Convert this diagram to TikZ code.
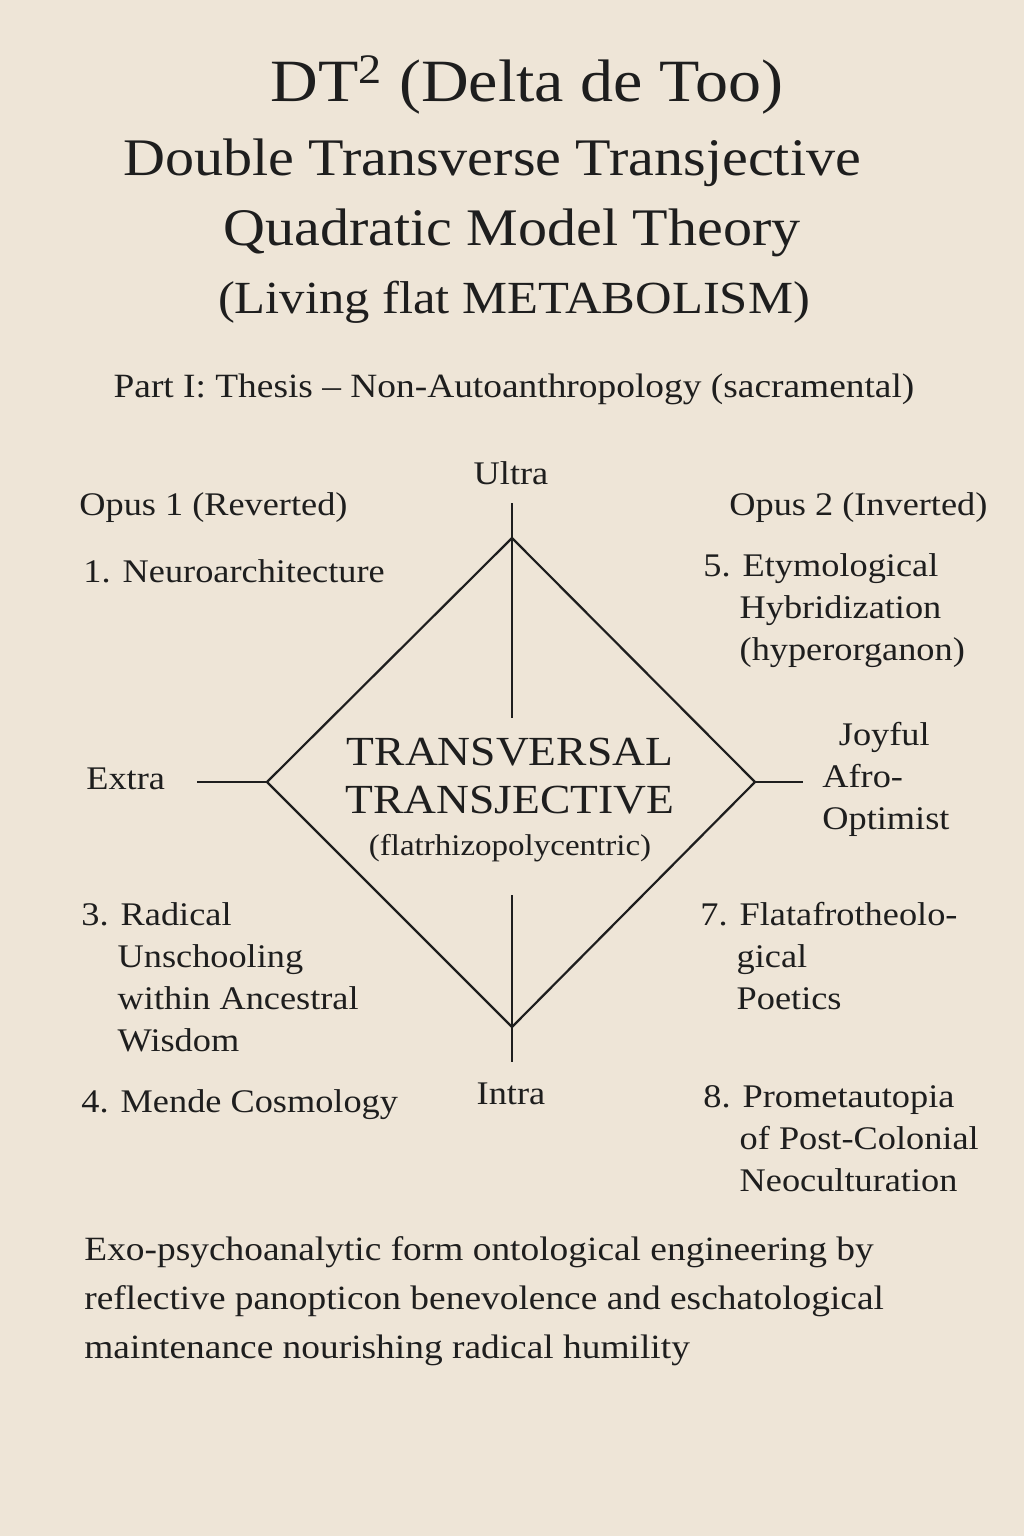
\documentclass[tikz,border=0pt]{standalone}
\usepackage{fontspec}
\setmainfont[FakeStretch=1.1]{Liberation Serif}
\definecolor{bg}{HTML}{EEE5D7}
\definecolor{ink}{HTML}{1E1E1E}
\begin{document}
\begin{tikzpicture}[x=0.5pt,y=-0.5pt,
  txt/.style={text=ink,inner sep=0pt,align=left},
  body/.style={txt,font=\fontsize{16.5}{21}\selectfont},
  ln/.style={draw=ink,line width=1.1pt}]
\fill[bg] (0,0) rectangle (1024,1536);
\useasboundingbox (0,0) rectangle (1024,1536);
\node[txt,font=\fontsize{30}{34}\selectfont] (t1) at (527,85) {DT\textsuperscript{2} (Delta de Too)};
\node[txt,font=\fontsize{26.4}{30}\selectfont] (t2) at (492,163) {Double Transverse Transjective};
\node[txt,font=\fontsize{26.4}{30}\selectfont] (t3) at (512,233) {Quadratic Model Theory};
\node[txt,font=\fontsize{23}{30}\selectfont] (t4) at (514,302) {(Living flat METABOLISM)};
\node[txt,font=\fontsize{17}{21}\selectfont] (t5) at (514,389) {Part I: Thesis -- Non-Autoanthropology (sacramental)};

\node[body] (ultra) at (511,473) {Ultra};
\node[body] (intra) at (511,1094) {Intra};
\node[body,anchor=west] (extra) at (86,779) {Extra};
\node[body,anchor=west] (joy) at (822,779) {\hspace*{0.5em}Joyful\\Afro-\\Optimist};
\node[body,anchor=west] (op1) at (79,508) {Opus 1 (Reverted)};
\node[body,anchor=west] (op2) at (729,508) {Opus 2 (Inverted)};
\node[body,anchor=west] (n1) at (83,571) {1. Neuroarchitecture};
\node[body,anchor=north west] (n5) at (703,553) {5. Etymological\\\hspace*{1.1em}Hybridization\\\hspace*{1.1em}(hyperorganon)};
\node[body,anchor=north west] (n3) at (81,902) {3. Radical\\\hspace*{1.1em}Unschooling\\\hspace*{1.1em}within Ancestral\\\hspace*{1.1em}Wisdom};
\node[body,anchor=west] (n4) at (81,1105) {4. Mende Cosmology};
\node[body,anchor=north west] (n7) at (700,902) {7. Flatafrotheolo-\\\hspace*{1.1em}gical\\\hspace*{1.1em}Poetics};
\node[body,anchor=north west] (n8) at (703,1085) {8. Prometautopia\\\hspace*{1.1em}of Post-Colonial\\\hspace*{1.1em}Neoculturation};

\node[txt,align=center,font=\fontsize{20.7}{24}\selectfont] (c) at (510,800) {TRANSVERSAL\\TRANSJECTIVE\\[-3pt]{\fontsize{15}{18}\selectfont (flatrhizopolycentric)}};

\coordinate (top) at (512,538);
\coordinate (lft) at (267,782);
\coordinate (rgt) at (755,782);
\coordinate (bot) at (512,1027);
\draw[ln] (top) -- (rgt) -- (bot) -- (lft) -- cycle;
\draw[ln] (512,503) -- (512,718);
\draw[ln] (512,895) -- (512,1062);
\draw[ln] (197,782) -- (lft);
\draw[ln] (rgt) -- (803,782);

\node[txt,anchor=north west,font=\fontsize{17}{24.5}\selectfont] (bt) at (84,1236) {Exo-psychoanalytic form ontological engineering by\\reflective panopticon benevolence and eschatological\\maintenance nourishing radical humility};
\end{tikzpicture}
\end{document}
